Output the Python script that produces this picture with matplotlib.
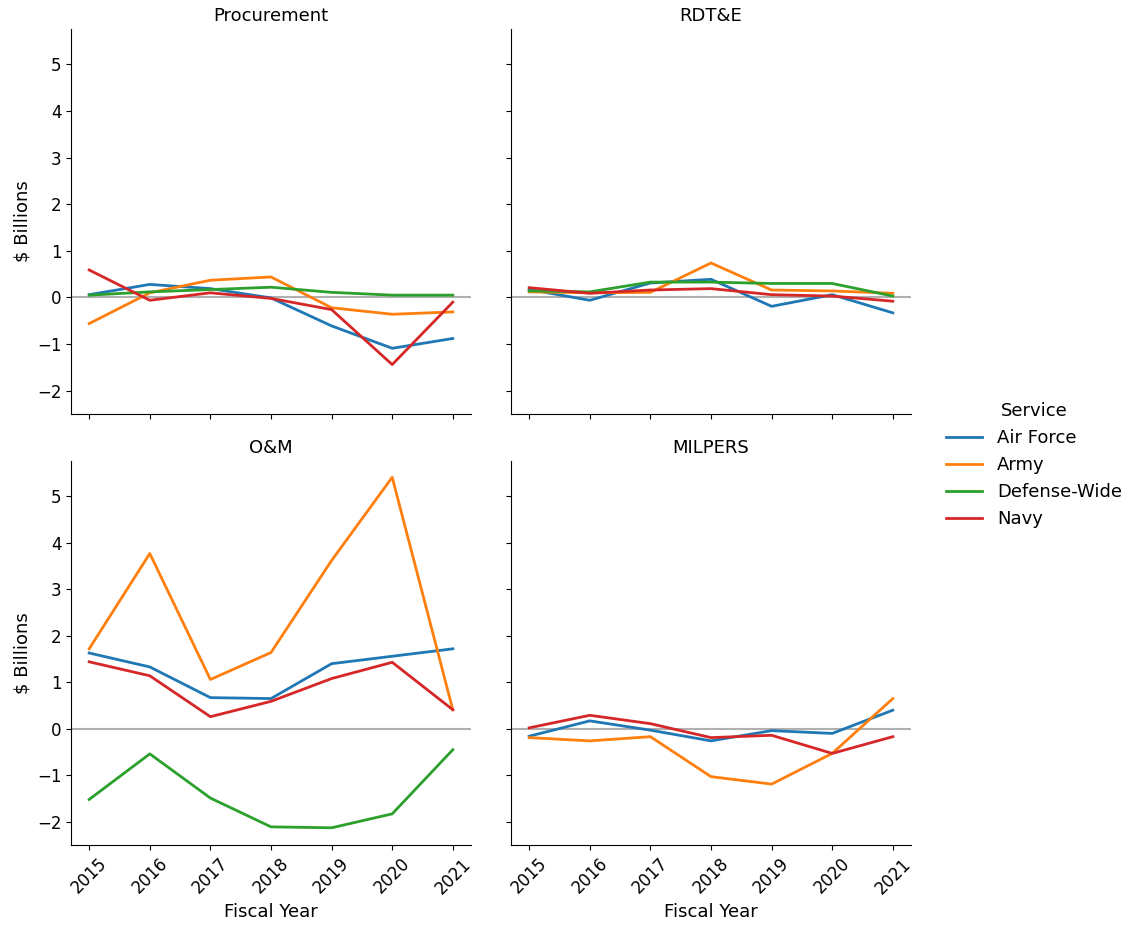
"""
Year-over-year change in spending by appropriation category and service.

Four small panels (Procurement, RDT&E, O&M, MILPERS) share the y axis; each
line is one service. Output: out.png
"""

import matplotlib.pyplot as plt

OUTPUT_PLOT = "out.png"

years = [2015, 2016, 2017, 2018, 2019, 2020, 2021]
categories = ["Procurement", "RDT&E", "O&M", "MILPERS"]
services = ["Air Force", "Army", "Defense-Wide", "Navy"]
colors = ["#1f77b4", "#ff7f0e", "#2ca02c", "#d62728"]

# $ billions
procurement = {
    "Air Force": [0.06, 0.28, 0.19, -0.01, -0.61, -1.09, -0.88],
    "Army": [-0.56, 0.10, 0.37, 0.44, -0.22, -0.36, -0.31],
    "Defense-Wide": [0.05, 0.12, 0.17, 0.22, 0.11, 0.05, 0.05],
    "Navy": [0.59, -0.06, 0.10, -0.02, -0.26, -1.44, -0.10],
}
rdte = {
    "Air Force": [0.17, -0.06, 0.31, 0.39, -0.19, 0.06, -0.33],
    "Army": [0.12, 0.10, 0.11, 0.74, 0.16, 0.14, 0.09],
    "Defense-Wide": [0.14, 0.12, 0.33, 0.33, 0.30, 0.30, 0.03],
    "Navy": [0.21, 0.09, 0.16, 0.19, 0.06, 0.03, -0.08],
}
om = {
    "Air Force": [1.63, 1.33, 0.67, 0.65, 1.40, 1.56, 1.72],
    "Army": [1.72, 3.77, 1.06, 1.64, 3.62, 5.41, 0.41],
    "Defense-Wide": [-1.52, -0.54, -1.49, -2.11, -2.13, -1.83, -0.45],
    "Navy": [1.44, 1.14, 0.26, 0.59, 1.08, 1.43, 0.41],
}
milpers = {
    "Air Force": [-0.16, 0.17, -0.03, -0.26, -0.04, -0.10, 0.40],
    "Army": [-0.19, -0.26, -0.17, -1.03, -1.19, -0.53, 0.65],
    "Navy": [0.02, 0.29, 0.11, -0.19, -0.14, -0.53, -0.17],
}
panel_data = [procurement, rdte, om, milpers]

plt.rcParams["font.size"] = 12

fig = plt.figure(figsize=(11.31, 9.26), dpi=100)
W, H = 1131, 926
# axes boxes in pixels: (left, top, right, bottom)
boxes = [(71, 29, 471, 414), (511, 29, 911, 414),
         (71, 461, 471, 845), (511, 461, 911, 845)]

axes = []
for i, (l, t, r, b) in enumerate(boxes):
    ax = fig.add_axes([l / W, 1 - b / H, (r - l) / W, (b - t) / H],
                      sharey=axes[0] if axes else None,
                      sharex=axes[0] if axes else None)
    axes.append(ax)

handles = {}
for ax, name, data in zip(axes, categories, panel_data):
    ax.axhline(0, color="#b0b0b0", lw=1.5, zorder=1)
    for service, color in zip(services, colors):
        if service not in data:
            continue
        (line,) = ax.plot(years, data[service], color=color, lw=2, label=service)
        handles[service] = line
    ax.set_title(name, fontsize=13)
    ax.spines["top"].set_visible(False)
    ax.spines["right"].set_visible(False)
    ax.set_xticks(years)

for ax in axes[:2]:
    ax.tick_params(labelbottom=False)
for ax in axes[1::2]:
    ax.tick_params(labelleft=False)
for ax in axes[::2]:
    ax.set_ylabel("$ Billions", fontsize=13)
for ax in axes[2:]:
    ax.set_xlabel("Fiscal Year", fontsize=13)
    for lbl in ax.get_xticklabels():
        lbl.set_rotation(45)

axes[0].set_ylim(-2.5, 5.76)
axes[0].set_yticks([-2, -1, 0, 1, 2, 3, 4, 5])

fig.legend([handles[s] for s in services], services, title="Service",
           loc="center left", bbox_to_anchor=(930 / W, 1 - 465 / H),
           frameon=False, fontsize=13, title_fontsize=13)

fig.savefig(OUTPUT_PLOT, dpi=100)
